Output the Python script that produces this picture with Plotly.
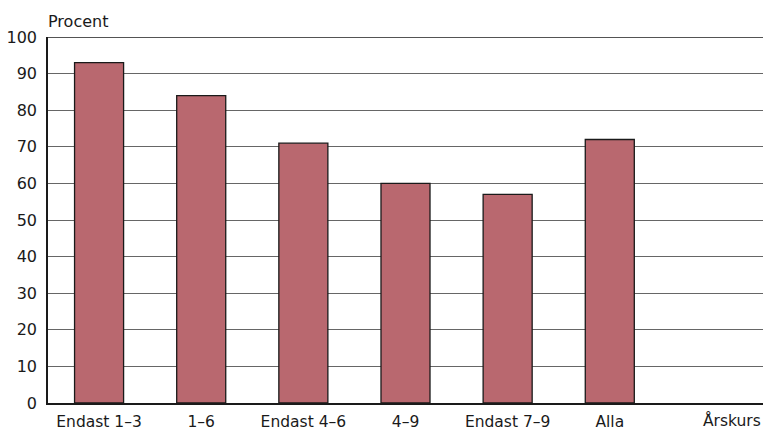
import plotly.graph_objects as go

categories = ["Endast 1–3", "1–6", "Endast 4–6", "4–9", "Endast 7–9", "Alla"]
values = [93, 84, 71, 60, 57, 72]
y_ticks = list(range(0, 101, 10))

fig = go.Figure()
fig.add_trace(go.Bar(
    x=categories, y=values,
    marker=dict(color="#b9686f", line=dict(color="#1a1a1a", width=1.3)),
    width=0.48,
))

font = "DejaVu Sans, Verdana, sans-serif"
fig.update_layout(
    width=763, height=431,
    margin=dict(l=48, r=0, t=37, b=28),
    plot_bgcolor="white", paper_bgcolor="white",
    showlegend=False,
    font=dict(family=font, size=16, color="#1a1a1a"),
    xaxis=dict(
        type="category", range=[-0.5, 6.5], automargin=False,
        showline=True, linecolor="#1a1a1a", linewidth=2,
        showgrid=False, ticks="", tickfont=dict(size=15.5),
        ticklabelstandoff=3,
    ),
    yaxis=dict(
        range=[0, 100], tickvals=y_ticks, ticktext=[str(v) for v in y_ticks],
        automargin=False,
        showgrid=True, gridcolor="#666666", gridwidth=1,
        showline=True, linecolor="#1a1a1a", linewidth=1.5,
        zeroline=False, ticks="", ticklabelstandoff=6,
        tickfont=dict(size=16),
    ),
    shapes=[dict(type="line", xref="paper", yref="y", x0=0, x1=1, y0=100, y1=100,
                 line=dict(color="#1a1a1a", width=1.5))],
    annotations=[
        dict(text="Procent", xref="paper", yref="paper", x=0, y=1.0, yshift=16, xshift=-2,
             xanchor="left", yanchor="middle", showarrow=False, font=dict(size=16)),
        dict(text="Årskurs", xref="paper", yref="paper", x=1.0, y=0, yshift=-17,
             xanchor="right", yanchor="middle", showarrow=False, font=dict(size=15.5)),
    ],
)
fig.write_html(
    "out.html",
    config={"displayModeBar": False},
    post_script="document.body.style.margin='0';document.body.style.overflow='hidden';",
)
